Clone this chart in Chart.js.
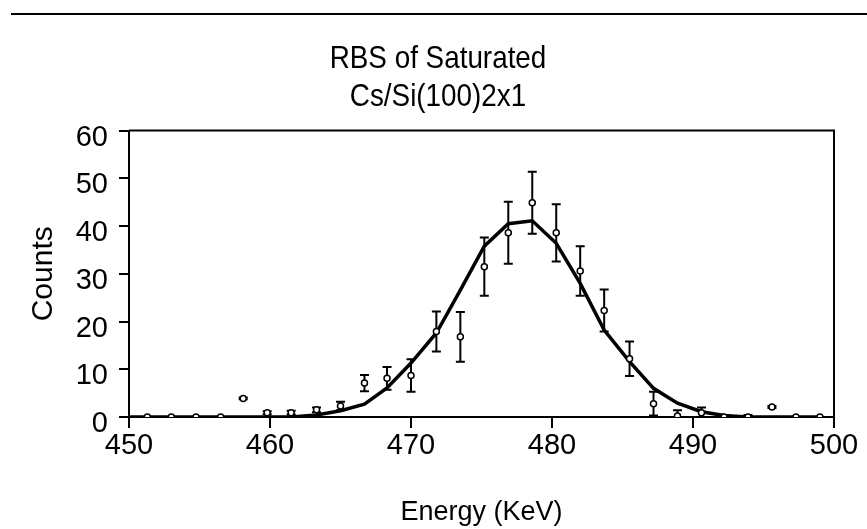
<!DOCTYPE html>
<html>
<head>
<meta charset="utf-8">
<script src="https://cdn.jsdelivr.net/npm/chart.js@4.4.0/dist/chart.umd.min.js"></script>
<style>
html, body { margin: 0; padding: 0; background: #fff; }
#wrap { position: relative; width: 867px; height: 529px; }
#rule { position: absolute; left: 11px; top: 13px; width: 856px; border-top: 2px solid #000; }
</style>
</head>
<body>
<div id="wrap">
  <canvas id="chart" width="867" height="529"></canvas>
  <div id="rule"></div>
</div>
<script>
// measured RBS spectrum
var energy = [451.3, 453.0, 454.75, 456.5, 458.1, 459.8, 461.5, 463.3, 465.0, 466.7,
              468.3, 470.0, 471.8, 473.5, 475.2, 476.9, 478.6, 480.3, 482.0, 483.7,
              485.5, 487.2, 488.9, 490.6, 492.2, 493.9, 495.6, 497.3, 499.0];
var counts = [0, 0, 0, 0, 3.9, 0.9, 0.9, 1.5, 2.3, 7.1,
              8.1, 8.7, 17.9, 16.8, 31.5, 38.6, 44.9, 38.6, 30.6, 22.3,
              12.2, 2.8, 0.2, 0.9, 0, 0, 2.1, 0, 0];
var countErr = [0, 0, 0, 0, 0.2, 0.3, 0.4, 0.5, 0.9, 1.7,
                2.4, 3.4, 4.2, 5.2, 6.1, 6.5, 6.5, 6.0, 5.2, 4.4,
                3.6, 2.5, 1.2, 1.1, 0.4, 0.4, 0.2, 0, 0];

// fitted curve
var fitEnergy = [449.6, 451.3, 453.0, 454.75, 456.5, 458.1, 459.8, 461.5, 463.3, 465.0, 466.7,
                 468.3, 470.0, 471.8, 473.5, 475.2, 476.9, 478.6, 480.3, 482.0, 483.7,
                 485.5, 487.2, 488.9, 490.6, 492.2, 493.9, 495.6, 497.3, 499.0];
var fitCounts = [0, 0, 0, 0, 0, 0, 0, 0, 0.4, 1.3, 2.7,
                 6.1, 11.3, 17.6, 26.6, 35.8, 40.5, 41.1, 36.4, 28.0, 18.2,
                 11.6, 6.0, 2.9, 1.1, 0.3, 0, 0, 0, 0];

var xTicks = [450, 460, 470, 480, 490, 500];
var yTicks = [0, 10, 20, 30, 40, 50, 60];

Chart.defaults.font.family = "'Liberation Sans', Arial, sans-serif";
Chart.defaults.color = '#000';

var errorBars = {
    id: 'errorBars',
    beforeDatasetsDraw: function(chart) {
        var ctx = chart.ctx;
        var xs = chart.scales.x, ys = chart.scales.y;
        var area = chart.chartArea;
        ctx.save();
        ctx.beginPath();
        ctx.rect(area.left, area.top, area.right - area.left, area.bottom - area.top);
        ctx.clip();
        ctx.strokeStyle = '#000';
        ctx.lineWidth = 2;
        for (var i = 0; i < energy.length; i++) {
            if (!countErr[i]) continue;
            var px = xs.getPixelForValue(energy[i]);
            var top = ys.getPixelForValue(counts[i] + countErr[i]);
            var bot = ys.getPixelForValue(counts[i] - countErr[i]);
            ctx.beginPath();
            ctx.moveTo(px, top); ctx.lineTo(px, bot);
            ctx.moveTo(px - 4.5, top); ctx.lineTo(px + 4.5, top);
            ctx.moveTo(px - 4.5, bot); ctx.lineTo(px + 4.5, bot);
            ctx.stroke();
        }
        ctx.restore();
    }
};

var frame = {
    id: 'frame',
    afterDraw: function(chart) {
        var ctx = chart.ctx, a = chart.chartArea;
        ctx.save();
        ctx.strokeStyle = '#000';
        ctx.lineWidth = 2;
        ctx.beginPath();
        ctx.moveTo(a.left, a.top);
        ctx.lineTo(a.right, a.top);
        ctx.lineTo(a.right, a.bottom);
        ctx.stroke();
        ctx.restore();
    }
};

var chart = new Chart(document.getElementById('chart'), {
    type: 'scatter',
    data: {
        datasets: [{
            label: 'data',
            data: energy.map(function(e, i) { return { x: e, y: counts[i] }; }),
            showLine: false,
            pointStyle: 'circle',
            pointRadius: 3,
            pointBorderWidth: 1.5,
            pointBorderColor: '#000',
            pointBackgroundColor: '#fff',
            order: 0
        }, {
            label: 'fit',
            data: fitEnergy.map(function(e, i) { return { x: e, y: fitCounts[i] }; }),
            showLine: true,
            borderColor: '#000',
            borderWidth: 3.5,
            pointRadius: 0,
            tension: 0,
            order: 1
        }]
    },
    options: {
        responsive: false,
        animation: false,
        layout: { padding: { left: 0, right: 33, top: 0, bottom: 0 } },
        plugins: {
            legend: { display: false },
            tooltip: { enabled: false },
            title: {
                display: true,
                text: ['RBS of Saturated', 'Cs/Si(100)2x1'],
                font: { size: 32, weight: 'normal', lineHeight: 1.166 },
                color: '#000',
                padding: { top: 41, bottom: 15 }
            }
        },
        scales: {
            x: {
                type: 'linear',
                min: 450,
                max: 500,
                afterBuildTicks: function(s) { s.ticks = xTicks.map(function(v) { return { value: v }; }); },
                afterFit: function(s) { s.height = 112; },
                ticks: { font: { size: 29 }, padding: 1, color: '#000', maxRotation: 0 },
                grid: { drawOnChartArea: false, tickLength: 11, color: '#000', lineWidth: 2 },
                border: { color: '#000', width: 2 },
                title: { display: true, text: 'Energy (KeV)', font: { size: 27 }, color: '#000', padding: { bottom: 0 } }
            },
            y: {
                min: 0,
                max: 60,
                afterBuildTicks: function(s) { s.ticks = yTicks.map(function(v) { return { value: v }; }); },
                afterFit: function(s) { s.width = 129; },
                ticks: { font: { size: 29 }, padding: 11, color: '#000', labelOffset: 7 },
                grid: { drawOnChartArea: false, tickLength: 10, color: '#000', lineWidth: 2 },
                border: { color: '#000', width: 2 },
                title: { display: true, text: 'Counts', font: { size: 30 }, color: '#000', padding: { top: 26 } }
            }
        }
    },
    plugins: [errorBars, frame]
});

// the original title is set in a narrow face: squeeze it horizontally
var titleBox = chart.titleBlock;
var drawTitle = titleBox.draw;
titleBox.draw = function() {
    var ctx = this.ctx, cx = (this.left + this.right) / 2;
    ctx.save();
    ctx.translate(438, 0);
    ctx.scale(0.87, 1);
    ctx.translate(-cx, 0);
    drawTitle.apply(this, arguments);
    ctx.restore();
};
chart.draw();
</script>
</body>
</html>
